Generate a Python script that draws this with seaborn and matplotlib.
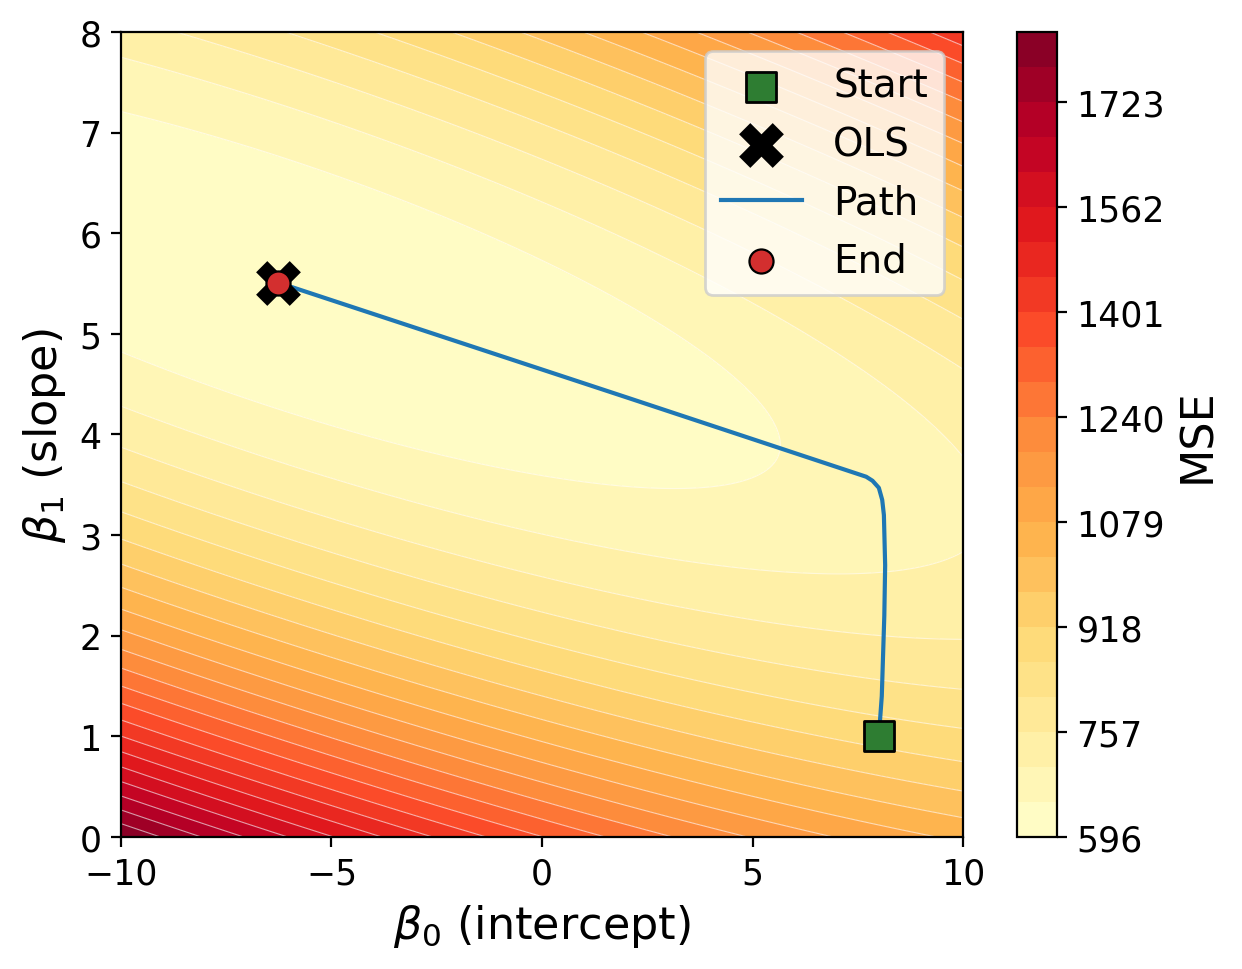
import numpy as np
import matplotlib
matplotlib.use('Agg')
import matplotlib.pyplot as plt
import seaborn as sns

# parameter ranges of the loss surface
b0_range = [-10, 10]
b1_range = [0, 8]
b0_ticks = [-10, -5, 0, 5, 10]

# OLS solution and the loss at the minimum
b0_ols = -6.27
b1_ols = 5.51
mse_min = 596.0

# moments of x that shape the MSE bowl
x_mean = 4.6
x_sq_mean = 33.96

# gradient descent path
path_b0 = [8.00, 8.07, 8.13, 8.15, 8.12, 8.08, 8.00, 7.85, 7.70, 2.00, -6.27]
path_b1 = [1.00, 1.40, 2.20, 2.70, 3.20, 3.35, 3.47, 3.54, 3.58, 4.37, 5.51]

start_b0, start_b1 = 8.0, 1.0
end_b0, end_b1 = -6.27, 5.51

n_levels = 24

# MSE surface
B0, B1 = np.meshgrid(np.linspace(*b0_range, 300), np.linspace(*b1_range, 300))
d0 = B0 - b0_ols
d1 = B1 - b1_ols
Z = mse_min + d0**2 + 2 * x_mean * d0 * d1 + x_sq_mean * d1**2
levels = np.linspace(mse_min, Z.max(), n_levels)

fig = plt.figure(figsize=(6.21, 4.85), dpi=200)
ax = fig.add_axes([0.0974, 0.1361, 0.678, 0.8299])
cax = fig.add_axes([0.8188, 0.1361, 0.0322, 0.8299])

cf = ax.contourf(B0, B1, Z, levels=levels, cmap='YlOrRd')
ax.contour(B0, B1, Z, levels=levels, colors='white', linewidths=0.4, alpha=0.6)

# markers and path
sns.scatterplot(x=[start_b0], y=[start_b1], marker='s', s=110, color='#2e7d32',
                edgecolor='black', linewidth=1, label='Start', zorder=5, ax=ax)
sns.scatterplot(x=[b0_ols], y=[b1_ols], marker='X', s=260, color='black',
                edgecolor='black', linewidth=0, label='OLS', zorder=5, ax=ax)
sns.lineplot(x=path_b0, y=path_b1, sort=False, estimator=None, color='#1f77b4',
             linewidth=1.5, label='Path', zorder=4, ax=ax)
sns.scatterplot(x=[end_b0], y=[end_b1], marker='o', s=75, color='#d32f2f',
                edgecolor='black', linewidth=0.8, label='End', zorder=6, ax=ax)

ax.set_xlim(b0_range)
ax.set_ylim(b1_range)
ax.set_xticks(b0_ticks)
ax.set_xlabel(r'$\beta_0$ (intercept)', fontsize=16)
ax.set_ylabel(r'$\beta_1$ (slope)', fontsize=16)
ax.tick_params(labelsize=12.5)
ax.legend(loc='upper right', fontsize=14, handlelength=2.1, labelspacing=0.52)

cbar = fig.colorbar(cf, cax=cax)
ticks = levels[::3]
cbar.set_ticks(ticks)
cbar.set_ticklabels([f'{t:.0f}' for t in ticks])
cbar.ax.tick_params(labelsize=12.5)
cbar.set_label('MSE', fontsize=16)

fig.savefig('out.png', dpi=200)
